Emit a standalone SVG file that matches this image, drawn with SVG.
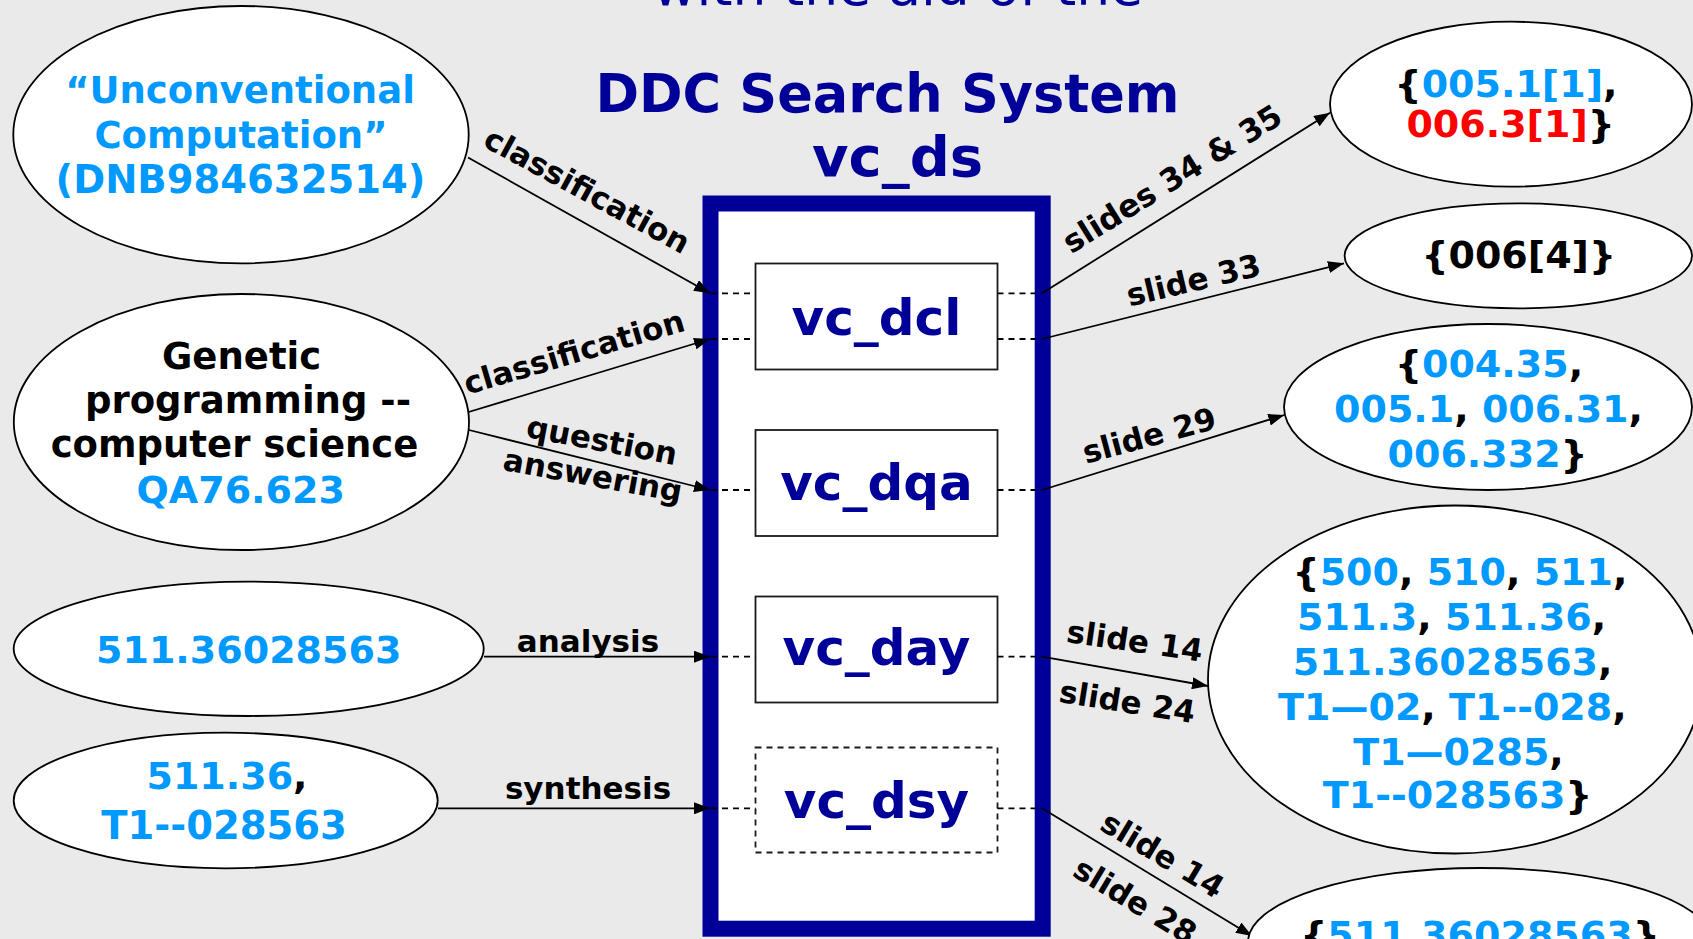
<svg xmlns="http://www.w3.org/2000/svg" width="1693" height="939" viewBox="0 0 1693 939">
<defs>
<marker id="arr" markerUnits="userSpaceOnUse" viewBox="0 0 16 12" refX="16" refY="6" markerWidth="16" markerHeight="12" orient="auto">
<path d="M0,0 L16,6 L0,12 z" fill="#000"/>
</marker>
<style>
text{font-family:"DejaVu Sans","Liberation Sans",sans-serif;font-weight:bold;}
.title{fill:#000099;font-size:52.5px;text-anchor:middle;}
.box{fill:#fff;stroke:#1a1a1a;stroke-width:1.8;}
.dsh{stroke-dasharray:6,5;}
.bt{fill:#000099;font-size:50px;text-anchor:middle;}
.node{fill:#fff;stroke:#000;stroke-width:1.8;}
.nt{font-size:38px;text-anchor:middle;fill:#000;}
.b{fill:#0099ff;}
.r{fill:#ff0000;}
.k{fill:#000;}
.lbl{font-size:31px;text-anchor:middle;fill:#000;}
.ln{stroke:#000;stroke-width:1.8;fill:none;}
.ar{marker-end:url(#arr);}
.dl{stroke:#000;stroke-width:1.8;stroke-dasharray:6,5;fill:none;}
</style>
</defs>
<rect x="0" y="0" width="1693" height="939" fill="#eaeaea"/>

<g id="title">
<text x="898" y="4.5" class="title" style="font-weight:normal;font-size:53.5px">with the aid of the</text>
<text x="887.5" y="111.7" class="title">DDC Search System</text>
<text x="897.5" y="175.7" class="title" style="font-size:56px">vc_ds</text>
</g>

<g id="vc_ds">
<rect x="710.5" y="203.5" width="332.2" height="725.2" fill="#fff" stroke="#000099" stroke-width="16"/>
</g>

<g id="vc_dcl">
<rect x="755.5" y="263.5" width="242" height="106" class="box"/>
<text x="876.5" y="335" class="bt">vc_dcl</text>
</g>
<g id="vc_dqa">
<rect x="755.5" y="430" width="242" height="106" class="box"/>
<text x="876.5" y="500" class="bt">vc_dqa</text>
</g>
<g id="vc_day">
<rect x="755.5" y="596.5" width="242" height="106" class="box"/>
<text x="876.5" y="665" class="bt">vc_day</text>
</g>
<g id="vc_dsy">
<rect x="755.5" y="747.5" width="242" height="105" class="box dsh"/>
<text x="876.5" y="818" class="bt">vc_dsy</text>
</g>

<g id="connectors">
<line x1="468" y1="157.5" x2="710" y2="293.3" class="ln ar"/>
<line x1="462" y1="414" x2="710" y2="339" class="ln ar"/>
<line x1="469" y1="430" x2="710" y2="490" class="ln ar"/>
<line x1="484" y1="656.7" x2="710" y2="656.7" class="ln ar"/>
<line x1="438" y1="808.3" x2="710" y2="808.3" class="ln ar"/>
<line x1="1042" y1="293.3" x2="1330" y2="112.7" class="ln ar"/>
<line x1="1042" y1="339" x2="1344" y2="263.3" class="ln ar"/>
<line x1="1042" y1="490" x2="1284.3" y2="415" class="ln ar"/>
<line x1="1042" y1="656.7" x2="1208" y2="686" class="ln ar"/>
<line x1="1042" y1="808.3" x2="1252" y2="936" class="ln ar"/>
<path class="dl" d="M711,293.3 H755.5 M997.5,293.3 H1042 M711,339 H755.5 M997.5,339 H1042 M711,490 H755.5 M997.5,490 H1042 M711,656.7 H755.5 M997.5,656.7 H1042 M711,808.3 H755.5 M997.5,808.3 H1042"/>
<text class="lbl" transform="translate(582,200) rotate(28.5)">classification</text>
<text class="lbl" transform="translate(577,362.5) rotate(-16.4)">classification</text>
<text class="lbl" transform="translate(600,451) rotate(10.7)">question</text>
<text class="lbl" transform="translate(591,486) rotate(10.4)">answering</text>
<text class="lbl" x="588" y="652">analysis</text>
<text class="lbl" x="588" y="799">synthesis</text>
<text class="lbl" transform="translate(1178,188) rotate(-31.8)" style="font-size:31.5px">slides 34 &amp; 35</text>
<text class="lbl" transform="translate(1196,290.7) rotate(-13.3)">slide 33</text>
<text class="lbl" transform="translate(1152,446) rotate(-15)">slide 29</text>
<text class="lbl" transform="translate(1133.3,651.7) rotate(8.3)">slide 14</text>
<text class="lbl" transform="translate(1125.7,712.5) rotate(9)">slide 24</text>
<text class="lbl" transform="translate(1157,864) rotate(31)">slide 14</text>
<text class="lbl" transform="translate(1129.7,910.3) rotate(31)">slide 28</text>
</g>

<g id="n_unconv">
<ellipse cx="241" cy="134.7" rx="227.7" ry="128.7" class="node"/>
<text class="nt b" style="font-size:37px"><tspan x="240" y="103.3">“Unconventional</tspan><tspan x="241" y="148.3">Computation”</tspan><tspan x="240.5" y="193.3" style="font-size:38.5px">(DNB984632514)</tspan></text>
</g>
<g id="n_genetic">
<ellipse cx="241.4" cy="422" rx="227.6" ry="128" class="node"/>
<text class="nt" style="font-size:37px"><tspan x="241.6" y="369.3">Genetic</tspan><tspan x="248" y="413.3">programming --</tspan><tspan x="234.5" y="456.7">computer science</tspan><tspan x="240.7" y="502.7" class="b" style="font-size:38px">QA76.623</tspan></text>
</g>
<g id="n_511a">
<ellipse cx="248.7" cy="648.8" rx="235" ry="67.2" class="node"/>
<text class="nt b" x="248.7" y="663.3">511.36028563</text>
</g>
<g id="n_511b">
<ellipse cx="225.7" cy="800.5" rx="212" ry="67.8" class="node"/>
<text class="nt"><tspan x="227" y="789.3"><tspan class="b">511.36</tspan>,</tspan><tspan x="224" y="839.3" class="b" style="font-size:38.5px">T1--028563</tspan></text>
</g>

<g id="r_dcl1">
<ellipse cx="1511" cy="104.2" rx="181" ry="82.5" class="node"/>
<text class="nt"><tspan x="1506" y="96.7">{<tspan class="b">005.1[1]</tspan>,</tspan><tspan x="1510.6" y="137.3"><tspan class="r">006.3[1]</tspan>}</tspan></text>
</g>
<g id="r_dcl2">
<ellipse cx="1518.3" cy="255.8" rx="173.7" ry="52.5" class="node"/>
<text class="nt" x="1518.7" y="268.3">{006[4]}</text>
</g>
<g id="r_dqa">
<ellipse cx="1488" cy="407" rx="204" ry="83" class="node"/>
<text class="nt"><tspan x="1489" y="377.3">{<tspan class="b">004.35</tspan>,</tspan><tspan x="1488.5" y="421.7"><tspan class="b">005.1</tspan>, <tspan class="b">006.31</tspan>,</tspan><tspan x="1487.6" y="466.7"><tspan class="b">006.332</tspan>}</tspan></text>
</g>
<g id="r_day">
<ellipse cx="1455" cy="679.5" rx="247" ry="174" class="node"/>
<text class="nt"><tspan x="1460" y="585">{<tspan class="b">500</tspan>, <tspan class="b">510</tspan>, <tspan class="b">511</tspan>,</tspan><tspan x="1451.6" y="630"><tspan class="b">511.3</tspan>, <tspan class="b">511.36</tspan>,</tspan><tspan x="1452.6" y="675"><tspan class="b">511.36028563</tspan>,</tspan><tspan x="1452.4" y="720"><tspan class="b">T1—02</tspan>, <tspan class="b">T1--028</tspan>,</tspan><tspan x="1458.5" y="765"><tspan class="b">T1—0285</tspan>,</tspan><tspan x="1457.6" y="808.3"><tspan class="b">T1--028563</tspan>}</tspan></text>
</g>
<g id="r_dsy">
<ellipse cx="1480" cy="942" rx="232" ry="74" class="node"/>
<text class="nt" x="1480" y="948">{<tspan class="b">511.36028563</tspan>}</text>
</g>
</svg>
